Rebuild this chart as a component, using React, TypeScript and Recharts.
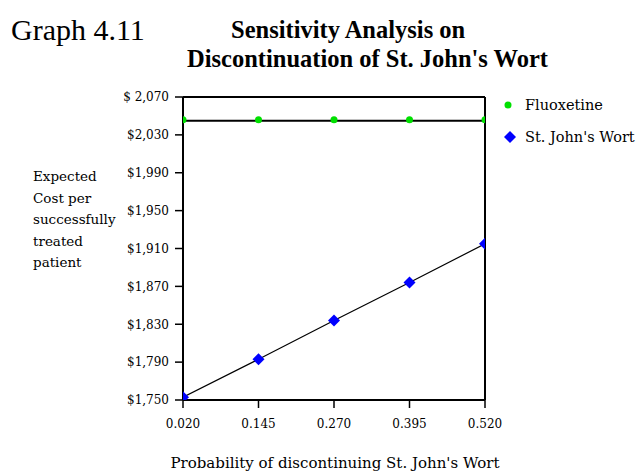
import React from "react";
import { LineChart, Line, XAxis, YAxis, ReferenceLine } from "recharts";

const probabilities = [0.02, 0.145, 0.27, 0.395, 0.52];
const fluoxetineCost = [2045, 2045, 2045, 2045, 2045];
const stJohnsCost = [1753, 1793, 1834, 1874, 1915];
const yTicks = [1750, 1790, 1830, 1870, 1910, 1950, 1990, 2030, 2070];
const yTickLabels = ["$1,750", "$1,790", "$1,830", "$1,870", "$1,910", "$1,950", "$1,990", "$2,030", "$ 2,070"];
const seriesNames = ["Fluoxetine", "St. John's Wort"];

const data = probabilities.map((p, i) => ({
  p,
  fluoxetine: fluoxetineCost[i],
  stjohns: stJohnsCost[i],
}));

const SERIF = "'DejaVu Serif', serif";
const TIMES = "'Liberation Serif', serif";

const GreenDot = (props: any) => {
  const { cx, cy } = props;
  if (cx == null || cy == null) return null;
  return <circle cx={cx} cy={cy - 1} r={3.5} fill="#00e000" stroke="none" />;
};

const BlueDiamond = (props: any) => {
  const { cx, cy } = props;
  if (cx == null || cy == null) return null;
  const s = 6;
  return (
    <polygon
      points={`${cx},${cy - s} ${cx + s},${cy} ${cx},${cy + s} ${cx - s},${cy}`}
      fill="#0000ff"
      stroke="none"
    />
  );
};

export default function App() {
  return (
    <div
      style={{
        position: "absolute",
        left: 0,
        top: 0,
        width: 642,
        height: 473,
        background: "#fff",
      }}
    >
      <div style={{ position: "absolute", left: 11, top: 13, fontSize: 30, fontFamily: TIMES, whiteSpace: "nowrap" }}>
        Graph 4.11
      </div>
      <div
        style={{
          position: "absolute",
          left: 0,
          width: 642,
          top: 15,
          fontWeight: "bold",
          fontSize: 24.5,
          lineHeight: "29px",
          fontFamily: TIMES,
          whiteSpace: "nowrap",
        }}
      >
        <div style={{ paddingLeft: 231 }}>Sensitivity Analysis on</div>
        <div style={{ paddingLeft: 187 }}>Discontinuation of St. John's Wort</div>
      </div>
      <div
        style={{
          position: "absolute",
          left: 33,
          top: 166,
          fontSize: 13.5,
          lineHeight: "21.5px",
          fontFamily: SERIF,
          whiteSpace: "nowrap",
        }}
      >
        Expected
        <br />
        Cost per
        <br />
        successfully
        <br />
        treated
        <br />
        patient
      </div>
      <div
        style={{
          position: "absolute",
          left: 135,
          width: 400,
          top: 454,
          textAlign: "center",
          fontSize: 15,
          fontFamily: SERIF,
          whiteSpace: "nowrap",
        }}
      >
        Probability of discontinuing St. John's Wort
      </div>
      <div style={{ position: "absolute", left: 498, top: 94, fontFamily: SERIF, fontSize: 14.5, whiteSpace: "nowrap" }}>
        <div style={{ display: "flex", alignItems: "center", height: 22 }}>
          <svg width={24} height={14}>
            <circle cx={10} cy={7} r={3.5} fill="#00e000" />
          </svg>
          <span style={{ marginLeft: 3 }}>{seriesNames[0]}</span>
        </div>
        <div style={{ display: "flex", alignItems: "center", height: 22, marginTop: 10 }}>
          <svg width={24} height={14}>
            <polygon points="12,1 18,7 12,13 6,7" fill="#0000ff" />
          </svg>
          <span style={{ marginLeft: 3 }}>{seriesNames[1]}</span>
        </div>
      </div>
      <LineChart
        width={642}
        height={473}
        data={data}
        margin={{ top: 97, right: 157, bottom: 43, left: 123 }}
        style={{ position: "absolute", left: 0, top: 0 }}
      >
        <XAxis
          dataKey="p"
          type="number"
          domain={[0.02, 0.52]}
          ticks={probabilities}
          tickFormatter={(v: number) => v.toFixed(3)}
          axisLine={{ stroke: "#000", strokeWidth: 2 }}
          tickLine={{ stroke: "#000", strokeWidth: 1.5 }}
          tickSize={8}
          tickMargin={11}
          tick={{ fill: "#000", fontSize: 12, fontFamily: SERIF }}
          height={30}
          allowDataOverflow
        />
        <YAxis
          type="number"
          domain={[1750, 2070]}
          ticks={yTicks}
          tickFormatter={(v: number) => yTickLabels[yTicks.indexOf(v)] ?? ""}
          axisLine={{ stroke: "#000", strokeWidth: 2 }}
          tickLine={{ stroke: "#000", strokeWidth: 1.5 }}
          tickSize={8}
          tickMargin={6}
          tick={{ fill: "#000", fontSize: 12, fontFamily: SERIF }}
          width={60}
          allowDataOverflow
        />
        <ReferenceLine y={2070} stroke="#000" strokeWidth={2} />
        <ReferenceLine x={0.52} stroke="#000" strokeWidth={2} />
        <Line
          type="linear"
          dataKey="fluoxetine"
          name={seriesNames[0]}
          stroke="#000"
          strokeWidth={2}
          dot={<GreenDot />}
          activeDot={false}
          isAnimationActive={false}
        />
        <Line
          type="linear"
          dataKey="stjohns"
          name={seriesNames[1]}
          stroke="#000"
          strokeWidth={1.2}
          dot={<BlueDiamond />}
          activeDot={false}
          isAnimationActive={false}
        />
      </LineChart>
    </div>
  );
}
